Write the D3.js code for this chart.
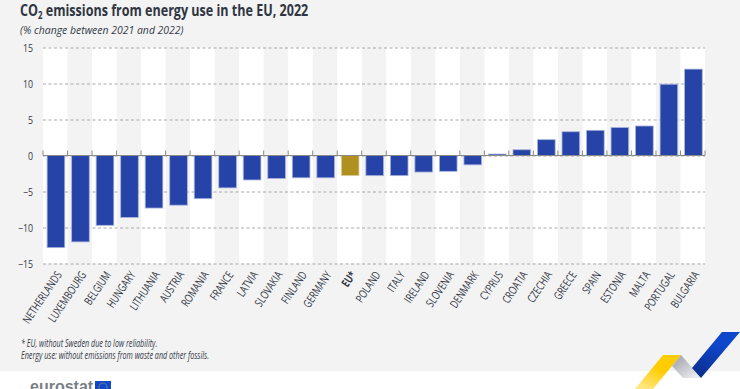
<!DOCTYPE html>
<html>
<head>
<meta charset="utf-8">
<script src="https://d3js.org/d3.v7.min.js"></script>
<style>
    html, body { margin: 0; padding: 0; background: #fff; }
    text { font-family: "Open Sans", sans-serif; }
</style>
</head>
<body>
<div id="chart"></div>
<script>
// Data
const countries = ["NETHERLANDS", "LUXEMBOURG", "BELGIUM", "HUNGARY", "LITHUANIA", "AUSTRIA", "ROMANIA",
    "FRANCE", "LATVIA", "SLOVAKIA", "FINLAND", "GERMANY", "EU*", "POLAND", "ITALY", "IRELAND", "SLOVENIA",
    "DENMARK", "CYPRUS", "CROATIA", "CZECHIA", "GREECE", "SPAIN", "ESTONIA", "MALTA", "PORTUGAL", "BULGARIA"];
const changes = [-12.8, -12.0, -9.7, -8.6, -7.3, -6.9, -6.0,
    -4.5, -3.4, -3.2, -3.1, -3.1, -2.8, -2.8, -2.8, -2.3, -2.2,
    -1.3, 0.2, 0.8, 2.2, 3.3, 3.5, 3.9, 4.1, 9.9, 12.0];
const yTicks = [-15, -10, -5, 0, 5, 10, 15];
const footnotes = ["* EU, without Sweden due to low reliability.",
    "Energy use: without emissions from waste and other fossils."];

// Set dimensions and margins
const width = 740;
const height = 389;
const margin = { top: 47.5, left: 43, right: 35, bottom: 125.5 };
const textColor = "#343a48";

const svg = d3.select("#chart")
    .append("svg")
    .attr("width", width)
    .attr("height", height)
    .style("display", "block");

const defs = svg.append("defs");

function addGradient(id, x1, y1, x2, y2, from, to) {
    const g = defs.append("linearGradient")
        .attr("id", id)
        .attr("x1", x1).attr("y1", y1).attr("x2", x2).attr("y2", y2);
    g.append("stop").attr("offset", "0%").attr("stop-color", from);
    g.append("stop").attr("offset", "100%").attr("stop-color", to);
}
addGradient("ribbonBlue", 0.6, 0.3, 0.3, 1, "#0e47cb", "#0b2f8f");
addGradient("ribbonGrey", 0, 0, 0.8, 0.9, "#9a9ca2", "#e6e8ee");
addGradient("ribbonYellow", 0.6, 0.45, 0.25, 1, "#ffcc00", "#ffe680");

// Page background
svg.append("rect")
    .attr("width", width)
    .attr("height", 371)
    .attr("fill", "#f3f3f3");

// Scales
const x = d3.scaleBand()
    .domain(countries)
    .range([margin.left, width - margin.right])
    .paddingInner(0.28)
    .paddingOuter(0.14)
    .align(0.6);

const y = d3.scaleLinear()
    .domain([-15, 15])
    .range([height - margin.bottom, margin.top]);

const bandStart = (d, i) => margin.left + i * x.step();

// White stripes behind every other country
svg.append("g")
    .selectAll("rect")
    .data(countries)
    .enter()
    .filter((d, i) => i % 2 === 0)
    .append("rect")
    .attr("x", d => bandStart(d, countries.indexOf(d)))
    .attr("y", y(15))
    .attr("width", x.step())
    .attr("height", y(-15) - y(15))
    .attr("fill", "#fff");

// Y axis with dashed grid
const yAxis = svg.append("g")
    .attr("transform", `translate(${margin.left}, 0)`)
    .call(d3.axisLeft(y)
        .tickValues(yTicks)
        .tickSize(-(width - margin.left - margin.right))
        .tickFormat(d3.format("d")));
yAxis.select(".domain").remove();
yAxis.selectAll("line")
    .attr("stroke", "#a9a9a9")
    .attr("stroke-dasharray", "3,2.5");
// No condensed font is installed, so the labels are squeezed sideways
yAxis.selectAll("text")
    .attr("x", 0)
    .attr("transform", "translate(-10, 0) scale(0.8, 1)")
    .attr("fill", textColor)
    .style("font-size", "11px");

// Bars
svg.append("g")
    .selectAll("rect")
    .data(countries)
    .enter()
    .append("rect")
    .attr("x", d => x(d))
    .attr("y", (d, i) => y(Math.max(0, changes[i])))
    .attr("width", x.bandwidth())
    .attr("height", (d, i) => Math.abs(y(changes[i]) - y(0)))
    .attr("fill", d => d === "EU*" ? "#b09120" : "#2644a7")
    .attr("stroke", d => d === "EU*" ? "#dccf9c" : "#aab5dc")
    .attr("stroke-width", 0.8);

// Zero line with ticks on the band edges
svg.append("line")
    .attr("x1", margin.left)
    .attr("x2", width - margin.right)
    .attr("y1", y(0))
    .attr("y2", y(0))
    .attr("stroke", "#8a8a8a")
    .attr("stroke-width", 1);

svg.append("g")
    .selectAll("line")
    .data(countries.concat("end"))
    .enter()
    .append("line")
    .attr("x1", (d, i) => bandStart(d, i))
    .attr("x2", (d, i) => bandStart(d, i))
    .attr("y1", y(0) - 5)
    .attr("y2", y(0))
    .attr("stroke", "#8a8a8a")
    .attr("stroke-width", 1);

// Rotated country labels
svg.append("g")
    .selectAll("text")
    .data(countries)
    .enter()
    .append("text")
    .attr("transform", d => `translate(${x(d) + x.bandwidth() / 2 + 3}, ${y(-15) + 9}) rotate(-56) scale(0.75, 1)`)
    .attr("text-anchor", "end")
    .attr("dy", "0.35em")
    .attr("fill", textColor)
    .style("font-size", "11.5px")
    .style("font-weight", d => d === "EU*" ? "bold" : "normal")
    .text(d => d);

// Title
const title = svg.append("text")
    .attr("transform", "translate(20, 16) scale(0.785, 1)")
    .attr("fill", "#2f3542")
    .style("font-size", "16px")
    .style("font-weight", "bold");
title.append("tspan").text("CO");
title.append("tspan").attr("dy", 3).style("font-size", "10px").text("2");
title.append("tspan").attr("dy", -3).text(" emissions from energy use in the EU, 2022");

// Subtitle
svg.append("text")
    .attr("transform", "translate(20, 34) scale(0.95, 1)")
    .attr("fill", textColor)
    .style("font-size", "11px")
    .style("font-style", "italic")
    .text("(% change between 2021 and 2022)");

// Footnotes
svg.append("g")
    .selectAll("text")
    .data(footnotes)
    .enter()
    .append("text")
    .attr("transform", (d, i) => `translate(21, ${347 + i * 12}) scale(0.72, 1)`)
    .attr("fill", textColor)
    .style("font-size", "10px")
    .style("font-style", "italic")
    .text(d => d);

// Ribbon in the corner
const ribbon = svg.append("g");
ribbon.append("polygon")
    .attr("points", "663,355 681,355 653,389 635,389")
    .attr("fill", "url(#ribbonYellow)");
ribbon.append("polygon")
    .attr("points", "681,355 701,378 683,378 672,366")
    .attr("fill", "url(#ribbonGrey)");
ribbon.append("polygon")
    .attr("points", "722,332 740,332 701,378 692,368")
    .attr("fill", "url(#ribbonBlue)");

// Eurostat logo, cut off by the bottom edge
svg.append("text")
    .attr("x", 30)
    .attr("y", 392)
    .attr("fill", "#7a7f87")
    .style("font-family", "'Liberation Sans', sans-serif")
    .style("font-size", "16px")
    .style("font-weight", "bold")
    .text("eurostat");
svg.append("rect")
    .attr("x", 95)
    .attr("y", 381)
    .attr("width", 16)
    .attr("height", 8)
    .attr("fill", "#0e47cb");
svg.append("circle")
    .attr("cx", 103)
    .attr("cy", 387)
    .attr("r", 4)
    .attr("fill", "none")
    .attr("stroke", "#ffcc00")
    .attr("stroke-width", 0.8)
    .attr("stroke-dasharray", "1,1");
</script>
</body>
</html>
